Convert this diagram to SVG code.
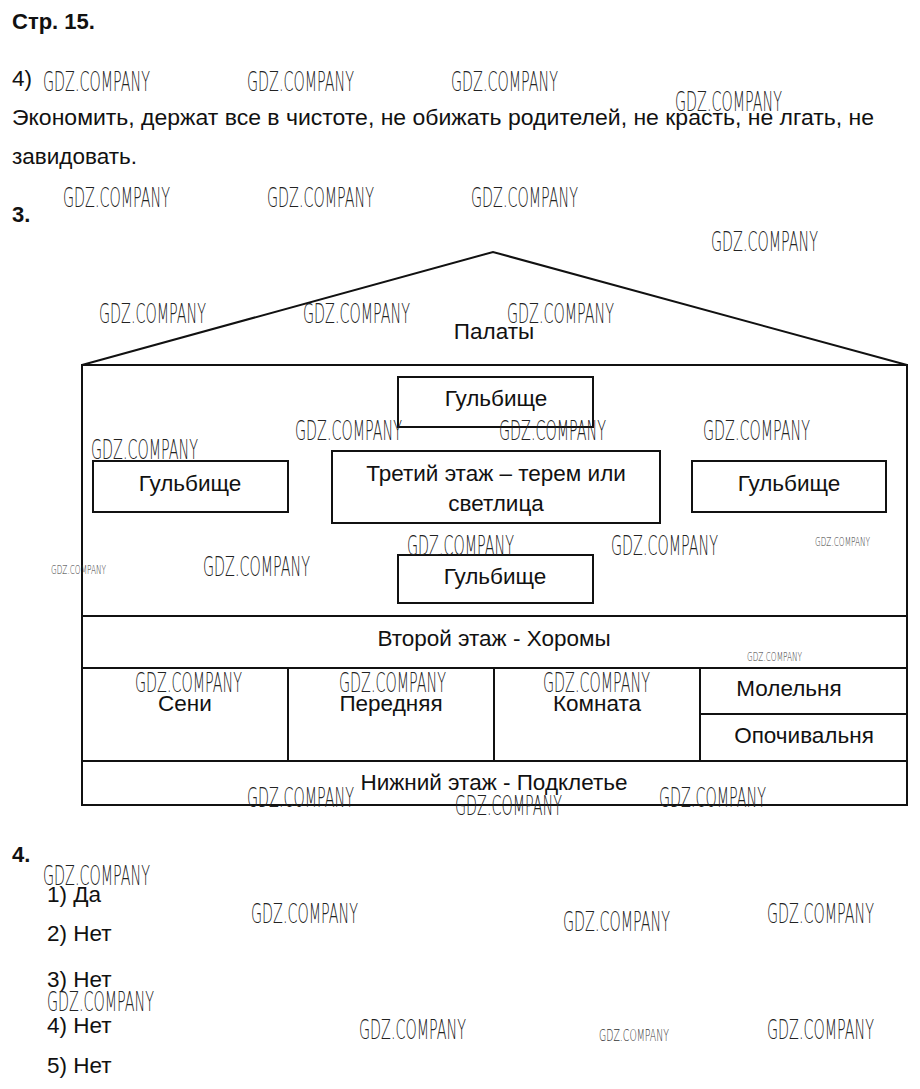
<svg xmlns="http://www.w3.org/2000/svg" width="920" height="1089" viewBox="0 0 920 1089">
<style>
.t{font-family:"Liberation Sans",Arial,sans-serif;font-size:22.5px;fill:#111}
.b{font-family:"Liberation Sans",Arial,sans-serif;font-size:22px;font-weight:bold;fill:#111}
.c{text-anchor:middle}
.w{font-family:"DejaVu Sans",sans-serif;font-size:26px;fill:#222;font-weight:200}
.ws{font-family:"DejaVu Sans",sans-serif;font-size:13px;fill:#333;font-weight:200}
.ln{fill:none;stroke:#111;stroke-width:2}
</style>
<rect width="920" height="1089" fill="#fff"/>
<g id="header">
<text class="b" x="12" y="29">Стр. 15.</text>
<text class="t" x="12" y="86">4)</text>
<text class="t" x="12" y="125" textLength="862" lengthAdjust="spacingAndGlyphs">Экономить, держат все в чистоте, не обижать родителей, не красть, не лгать, не</text>
<text class="t" x="12" y="164">завидовать.</text>
<text class="b" x="12" y="222">3.</text>
</g>
<g id="connectors">
<path class="ln" d="M82,365 L493,252 L907,365"/>
<rect class="ln" x="82" y="365" width="825" height="440"/>
<line class="ln" x1="82" y1="616" x2="907" y2="616"/>
<line class="ln" x1="82" y1="668" x2="907" y2="668"/>
<line class="ln" x1="82" y1="761" x2="907" y2="761"/>
<line class="ln" x1="288" y1="668" x2="288" y2="761"/>
<line class="ln" x1="494" y1="668" x2="494" y2="761"/>
<line class="ln" x1="700" y1="668" x2="700" y2="761"/>
<line class="ln" x1="700" y1="714" x2="907" y2="714"/>
</g>
<g id="palaty"><text class="t c" x="494" y="339">Палаты</text></g>
<g id="gulbishche-top"><rect class="ln" x="398" y="377" width="195" height="50"/><text class="t c" x="496" y="406">Гульбище</text></g>
<g id="gulbishche-left"><rect class="ln" x="93" y="461" width="195" height="51"/><text class="t c" x="190" y="491">Гульбище</text></g>
<g id="third-floor"><rect class="ln" x="332" y="451" width="328" height="72"/><text class="t c" x="496" y="481">Третий этаж – терем или</text><text class="t c" x="496" y="511">светлица</text></g>
<g id="gulbishche-right"><rect class="ln" x="692" y="461" width="194" height="51"/><text class="t c" x="789" y="491">Гульбище</text></g>
<g id="gulbishche-bottom"><rect class="ln" x="398" y="555" width="195" height="48"/><text class="t c" x="495" y="584">Гульбище</text></g>
<g id="second-floor"><text class="t c" x="494" y="646">Второй этаж - Хоромы</text></g>
<g id="seni"><text class="t c" x="185" y="711">Сени</text></g>
<g id="perednyaya"><text class="t c" x="391" y="711">Передняя</text></g>
<g id="komnata"><text class="t c" x="597" y="711">Комната</text></g>
<g id="molelnya"><text class="t c" x="789" y="696">Молельня</text></g>
<g id="opochivalnya"><text class="t c" x="804" y="743">Опочивальня</text></g>
<g id="ground-floor"><text class="t c" x="494" y="790">Нижний этаж - Подклетье</text></g>
<g id="answers">
<text class="b" x="12" y="862">4.</text>
<text class="t" x="47" y="902">1) Да</text>
<text class="t" x="47" y="941">2) Нет</text>
<text class="t" x="47" y="987">3) Нет</text>
<text class="t" x="47" y="1033">4) Нет</text>
<text class="t" x="47" y="1073">5) Нет</text>
</g>
<g id="watermarks">
<text class="w" x="43" y="91" textLength="107" lengthAdjust="spacingAndGlyphs">GDZ.COMPANY</text>
<text class="w" x="247" y="91" textLength="107" lengthAdjust="spacingAndGlyphs">GDZ.COMPANY</text>
<text class="w" x="451" y="91" textLength="107" lengthAdjust="spacingAndGlyphs">GDZ.COMPANY</text>
<text class="w" x="675" y="111" textLength="107" lengthAdjust="spacingAndGlyphs">GDZ.COMPANY</text>
<text class="w" x="63" y="207" textLength="107" lengthAdjust="spacingAndGlyphs">GDZ.COMPANY</text>
<text class="w" x="267" y="207" textLength="107" lengthAdjust="spacingAndGlyphs">GDZ.COMPANY</text>
<text class="w" x="471" y="207" textLength="107" lengthAdjust="spacingAndGlyphs">GDZ.COMPANY</text>
<text class="w" x="711" y="251" textLength="107" lengthAdjust="spacingAndGlyphs">GDZ.COMPANY</text>
<text class="w" x="99" y="323" textLength="107" lengthAdjust="spacingAndGlyphs">GDZ.COMPANY</text>
<text class="w" x="303" y="323" textLength="107" lengthAdjust="spacingAndGlyphs">GDZ.COMPANY</text>
<text class="w" x="507" y="323" textLength="107" lengthAdjust="spacingAndGlyphs">GDZ.COMPANY</text>
<text class="w" x="91" y="459" textLength="107" lengthAdjust="spacingAndGlyphs">GDZ.COMPANY</text>
<text class="w" x="295" y="440" textLength="107" lengthAdjust="spacingAndGlyphs">GDZ.COMPANY</text>
<text class="w" x="499" y="440" textLength="107" lengthAdjust="spacingAndGlyphs">GDZ.COMPANY</text>
<text class="w" x="703" y="440" textLength="107" lengthAdjust="spacingAndGlyphs">GDZ.COMPANY</text>
<text class="ws" x="51" y="574" textLength="55" lengthAdjust="spacingAndGlyphs">GDZ.COMPANY</text>
<text class="w" x="203" y="576" textLength="107" lengthAdjust="spacingAndGlyphs">GDZ.COMPANY</text>
<text class="w" x="407" y="555" textLength="107" lengthAdjust="spacingAndGlyphs">GDZ.COMPANY</text>
<text class="w" x="611" y="555" textLength="107" lengthAdjust="spacingAndGlyphs">GDZ.COMPANY</text>
<text class="ws" x="815" y="546" textLength="55" lengthAdjust="spacingAndGlyphs">GDZ.COMPANY</text>
<text class="ws" x="747" y="661" textLength="55" lengthAdjust="spacingAndGlyphs">GDZ.COMPANY</text>
<text class="w" x="135" y="692" textLength="107" lengthAdjust="spacingAndGlyphs">GDZ.COMPANY</text>
<text class="w" x="339" y="692" textLength="107" lengthAdjust="spacingAndGlyphs">GDZ.COMPANY</text>
<text class="w" x="543" y="692" textLength="107" lengthAdjust="spacingAndGlyphs">GDZ.COMPANY</text>
<text class="w" x="247" y="807" textLength="107" lengthAdjust="spacingAndGlyphs">GDZ.COMPANY</text>
<text class="w" x="455" y="815" textLength="107" lengthAdjust="spacingAndGlyphs">GDZ.COMPANY</text>
<text class="w" x="659" y="807" textLength="107" lengthAdjust="spacingAndGlyphs">GDZ.COMPANY</text>
<text class="w" x="43" y="885" textLength="107" lengthAdjust="spacingAndGlyphs">GDZ.COMPANY</text>
<text class="w" x="251" y="923" textLength="107" lengthAdjust="spacingAndGlyphs">GDZ.COMPANY</text>
<text class="w" x="563" y="931" textLength="107" lengthAdjust="spacingAndGlyphs">GDZ.COMPANY</text>
<text class="w" x="767" y="923" textLength="107" lengthAdjust="spacingAndGlyphs">GDZ.COMPANY</text>
<text class="w" x="47" y="1011" textLength="107" lengthAdjust="spacingAndGlyphs">GDZ.COMPANY</text>
<text class="w" x="359" y="1039" textLength="107" lengthAdjust="spacingAndGlyphs">GDZ.COMPANY</text>
<text class="ws" x="599" y="1041" textLength="70" lengthAdjust="spacingAndGlyphs" style="font-size:16px">GDZ.COMPANY</text>
<text class="w" x="767" y="1039" textLength="107" lengthAdjust="spacingAndGlyphs">GDZ.COMPANY</text>
</g>
</svg>
